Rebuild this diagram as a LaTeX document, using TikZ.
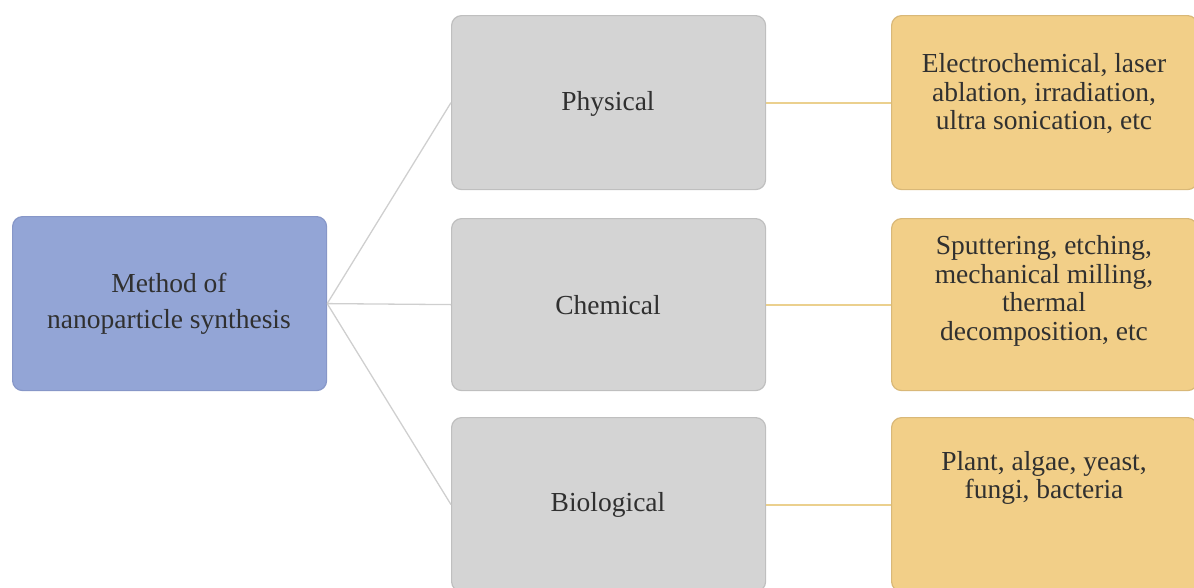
\documentclass[tikz,border=0pt]{standalone}
\usepackage{fontspec}
\setmainfont{Liberation Serif}
\definecolor{rootfill}{HTML}{93A5D6}
\definecolor{rootdraw}{HTML}{8797C8}
\definecolor{midfill}{HTML}{D4D4D4}
\definecolor{middraw}{HTML}{BFBFBF}
\definecolor{leaffill}{HTML}{F2CF88}
\definecolor{leafdraw}{HTML}{D9B878}
\definecolor{txtgray}{HTML}{303030}
\definecolor{glink}{HTML}{CFCFCF}
\definecolor{olink}{HTML}{EBD08E}
\begin{document}
\begin{tikzpicture}[x=1pt,y=-1pt,
  box/.style={rounded corners=10pt, line width=1.2pt, inner sep=0pt,
              anchor=north west, minimum height=174pt},
  rootbox/.style={box, fill=rootfill, draw=rootdraw, minimum width=314pt},
  midbox/.style={box, fill=midfill, draw=middraw, minimum width=314pt},
  leafbox/.style={box, fill=leaffill, draw=leafdraw, minimum width=306pt},
  txt/.style={align=center, text=txtgray, inner sep=0pt,
              font=\fontsize{27.5}{28.5}\selectfont},
  gline/.style={draw=glink, line width=1.3pt},
  oline/.style={draw=olink, line width=2pt}]
\useasboundingbox (0,0) rectangle (1194,587);
\clip (0,0) rectangle (1194,587);

% boxes
\node[rootbox] (root) at (12,216) {};
\node[midbox] (phys) at (451,15) {};
\node[midbox, minimum height=172pt] (chem) at (451,218) {};
\node[midbox] (bio) at (451,417) {};
\node[leafbox] (lphys) at (891,15) {};
\node[leafbox, minimum height=172pt] (lchem) at (891,218) {};
\node[leafbox] (lbio) at (891,417) {};

% connectors
\draw[gline] (root.east) -- (phys.west);
\draw[gline] (root.east) -- (chem.west);
\draw[gline] (root.east) -- (bio.west);
\draw[oline] (phys.east) -- (lphys.west);
\draw[oline] (chem.east) -- (lchem.west);
\draw[oline] (bio.east) -- (lbio.west);

% labels
\node[txt, font=\fontsize{27.5}{36}\selectfont] (troot) at (169,304) {Method of\\nanoparticle synthesis};
\node[txt] (tphys) at (608,104) {Physical};
\node[txt] (tchem) at (608,305) {Chemical};
\node[txt] (tbio) at (608,505) {Biological};
\node[txt] (tlphys) at (1044,94) {Electrochemical, laser\\ablation, irradiation,\\ultra sonication, etc};
\node[txt] (tlchem) at (1044,291) {Sputtering, etching,\\mechanical milling,\\thermal\\decomposition, etc};
\node[txt] (tlbio) at (1044,478) {Plant, algae, yeast,\\fungi, bacteria};
\end{tikzpicture}
\end{document}
